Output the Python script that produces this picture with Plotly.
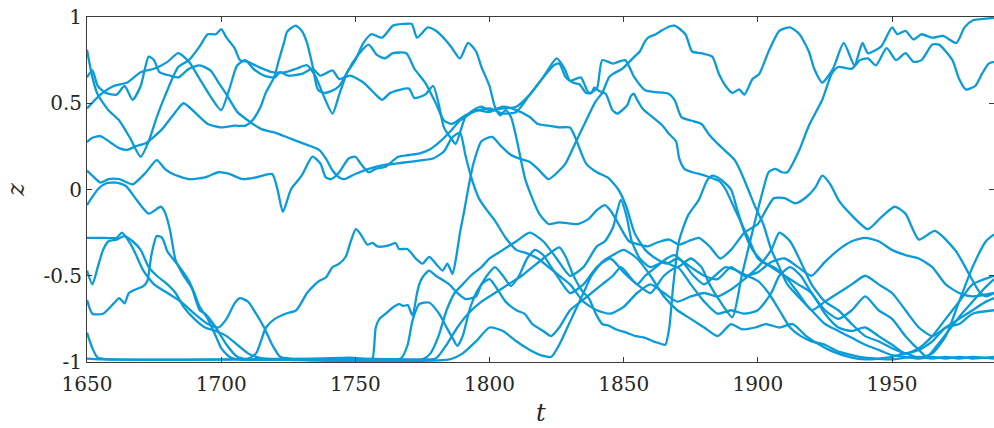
import plotly.graph_objects as go

# ---- data: (year, z) samples, one list per trajectory ----
line_a = [(1650,0.81),(1652,0.65),(1654,0.55),(1658,0.46),(1662,0.40),(1666,0.30),(1670,0.19),(1673,0.28),(1676,0.42),(1679,0.54),
          (1684,0.71),(1688,0.75),(1692,0.83),(1695,0.90),(1698,0.90),(1700,0.93),(1702,0.88),(1705,0.82),(1707,0.75),(1710,0.74),
          (1714,0.71),(1719,0.68),(1724,0.68),(1728,0.70),(1732,0.72),(1735,0.66),(1738,0.55),(1741.5,0.44),(1744,0.55),(1747,0.68),
          (1751,0.78),(1755,0.84),(1758,0.78),(1761,0.76),(1764,0.79),(1769,0.79),(1772,0.70),(1776,0.62),(1780,0.50),(1783,0.40),
          (1786,0.38),(1791,0.43),(1796,0.46),(1800,0.47),(1805,0.44),(1810,0.45),(1815,0.55),(1820,0.65),(1825,0.76),(1828,0.70),
          (1830,0.63),(1834,0.65),(1837,0.56),(1840,0.585),(1842,0.75),(1846,0.73),(1850.5,0.75),(1854,0.65),(1858,0.575),(1862,0.565),
          (1866.6,0.556),(1869,0.518),(1871.5,0.42),(1875,0.40),(1879,0.38),(1881.5,0.325),(1885,0.266),(1889,0.208),(1891.4,0.17),(1894,0.09),
          (1896.4,0.0),(1899,-0.1),(1902,-0.2),(1905,-0.35),(1908,-0.45),(1911,-0.55),(1915,-0.62),(1920,-0.70),(1925,-0.78),(1930,-0.82),
          (1935,-0.86),(1940,-0.90),(1945,-0.93),(1950,-0.96),(1955,-0.97),(1960,-0.98),(1965,-0.97),(1970,-0.98),(1975,-0.97),(1980,-0.98),(1988,-0.97)]

line_b = [(1650,0.65),(1652,0.69),(1654,0.60),(1657,0.56),(1661,0.55),(1664,0.60),(1667,0.52),(1670,0.60),(1673,0.77),(1675,0.75),
          (1677,0.68),(1681,0.66),(1684,0.65),(1688,0.70),(1692,0.72),(1696,0.69),(1699,0.62),(1702,0.55),(1706,0.45),(1710,0.40),
          (1715,0.35),(1720,0.33),(1725,0.30),(1730,0.27),(1736.5,0.23),(1739,0.18),(1741.5,0.11),(1744,0.07),(1746,0.06),(1750,0.09),
          (1755,0.12),(1760,0.14),(1765,0.15),(1770,0.16),(1775,0.17),(1779,0.18),(1783,0.22),(1786,0.30),(1789,0.33),(1791,0.20),
          (1793,0.08),(1796,-0.05),(1799,-0.12),(1802,-0.18),(1806,-0.28),(1810,-0.35),(1814,-0.37),(1818,-0.40),(1822,-0.45),(1826,-0.50),
          (1830,-0.55),(1835,-0.65),(1840,-0.70),(1845,-0.72),(1850,-0.68),(1855,-0.60),(1860,-0.55),(1865,-0.60),(1870,-0.65),(1875,-0.62),
          (1880,-0.60),(1885,-0.62),(1890,-0.58),(1895,-0.52),(1900,-0.45),(1905,-0.35),(1908,-0.25),(1912,-0.30),(1916,-0.42),(1920,-0.55),
          (1925,-0.65),(1930,-0.70),(1935,-0.78),(1940,-0.85),(1945,-0.88),(1950,-0.92),(1955,-0.95),(1960,-0.93),(1965,-0.88),(1970,-0.80),
          (1975,-0.78),(1980,-0.72),(1988,-0.70)]

line_c = [(1650,0.47),(1655,0.55),(1660,0.60),(1665,0.62),(1670,0.68),(1675,0.70),(1680,0.74),(1684,0.79),(1688,0.74),(1692,0.64),
          (1696,0.54),(1700,0.46),(1703,0.58),(1706,0.72),(1709,0.75),(1712,0.70),(1716,0.66),(1720,0.65),(1722,0.68),(1725,0.66),
          (1730,0.67),(1734,0.70),(1737,0.66),(1741.5,0.69),(1744,0.64),(1748,0.66),(1753,0.62),(1757.6,0.55),(1760,0.52),(1763,0.56),
          (1770,0.585),(1772,0.53),(1776,0.55),(1779,0.60),(1781,0.50),(1783,0.36),(1785.5,0.30),(1787.4,0.265),(1789,0.33),(1791,0.42),
          (1794,0.46),(1797,0.48),(1800,0.46),(1805,0.47),(1810,0.48),(1815,0.55),(1820,0.65),(1824,0.72),(1826,0.73),(1828.4,0.65),
          (1831,0.62),(1833.5,0.61),(1836,0.56),(1838,0.56),(1839,0.59),(1841,0.57),(1843.3,0.555),(1845.8,0.46),(1847.6,0.44),(1849.5,0.46),
          (1851.4,0.49),(1852.6,0.54),(1853.8,0.555),(1855,0.52),(1857,0.47),(1860.7,0.42),(1864.5,0.37),(1867,0.32),(1869.5,0.28),(1870.7,0.18),
          (1872.6,0.12),(1875.7,0.10),(1879.4,0.085),(1883.1,0.065),(1885.6,0.05),(1888,0.0),(1891,-0.10),(1894,-0.20),(1897,-0.30),(1900,-0.40),
          (1905,-0.45),(1910,-0.50),(1915,-0.55),(1920,-0.60),(1925,-0.72),(1930,-0.80),(1935,-0.82),(1940,-0.80),(1945,-0.85),(1950,-0.90),
          (1955,-0.95),(1960,-0.92),(1965,-0.85),(1970,-0.75),(1975,-0.65),(1980,-0.55),(1988,-0.50)]

line_d = [(1650,0.275),(1652,0.30),(1655,0.31),(1659,0.27),(1662,0.24),(1665,0.23),(1668,0.25),(1672,0.27),(1678,0.35),(1683,0.45),
          (1686,0.50),(1690,0.45),(1695,0.38),(1700,0.36),(1705,0.37),(1709,0.37),(1711.6,0.40),(1714.7,0.48),(1716.6,0.56),(1719.7,0.65),
          (1721.5,0.75),(1723.4,0.85),(1724.6,0.915),(1727.7,0.95),(1730,0.92),(1732,0.85),(1734,0.72),(1736,0.58),(1738,0.56),(1741,0.57),
          (1744,0.60),(1747,0.68),(1750,0.75),(1753,0.85),(1756,0.90),(1760,0.88),(1764,0.95),(1768,0.96),(1771,0.96),(1773,0.88),
          (1777,0.94),(1780,0.92),(1784,0.86),(1786,0.82),(1789,0.76),(1792,0.85),(1795,0.80),(1797,0.71),(1800,0.60),(1802,0.48),
          (1804,0.43),(1806,0.46),(1808,0.42),(1810,0.30),(1812,0.15),(1813.5,0.05),(1818.5,-0.14),(1822,-0.20),(1826,-0.19),(1833,-0.20),
          (1837,-0.17),(1840,-0.12),(1843,-0.09),(1845,-0.12),(1847,-0.17),(1849.5,-0.24),(1852,-0.30),(1856,-0.32),(1859,-0.33),(1862,-0.31),
          (1864,-0.30),(1867,-0.29),(1870.6,-0.32),(1874,-0.30),(1878,-0.28),(1882,-0.33),(1886,-0.40),(1890,-0.35),(1895,-0.25),(1900,-0.20),
          (1903,-0.12),(1906,-0.05),(1910,-0.05),(1914,-0.08),(1918,-0.045),(1921.5,0.014),(1924,0.08),(1927,0.03),(1930,-0.06),(1935,-0.15),
          (1941,-0.23),(1946,-0.16),(1951,-0.10),(1955,-0.14),(1960,-0.29),(1966,-0.24),(1973.7,-0.355),(1978.7,-0.49),(1982.4,-0.59),(1985,-0.62),
          (1988,-0.60)]

line_e = [(1650,0.11),(1652,0.08),(1655,0.04),(1658,0.06),(1662,0.06),(1667,0.03),(1672,0.10),(1676,0.17),(1679,0.12),(1682,0.09),
          (1688,0.06),(1694,0.07),(1699,0.10),(1703,0.09),(1708,0.06),(1713,0.07),(1719,0.09),(1721,0.0),(1723,-0.13),(1726,0.0),
          (1730,0.08),(1734,0.19),(1737,0.15),(1739,0.07),(1741,0.06),(1744,0.10),(1747.5,0.18),(1750,0.19),(1752,0.15),(1755,0.10),
          (1757.6,0.12),(1761,0.13),(1766,0.19),(1770,0.20),(1774,0.21),(1777.5,0.23),(1781,0.27),(1785,0.33),(1789,0.40),(1791,0.42),
          (1795,0.46),(1800,0.45),(1805,0.48),(1810,0.46),(1815,0.42),(1818,0.38),(1822,0.37),(1826,0.36),(1830,0.36),(1832,0.30),
          (1836,0.15),(1840,0.10),(1844,0.07),(1848,0.0),(1851,-0.10),(1854,-0.25),(1858,-0.35),(1862,-0.40),(1866,-0.43),(1870,-0.40),
          (1875,-0.45),(1880,-0.50),(1885,-0.52),(1890,-0.45),(1895,-0.50),(1900,-0.48),(1905,-0.42),(1910,-0.40),(1915,-0.45),(1920,-0.50),
          (1925,-0.42),(1930,-0.35),(1935,-0.30),(1940,-0.28),(1945,-0.30),(1950,-0.35),(1955,-0.38),(1960,-0.40),(1965,-0.45),(1970,-0.55),
          (1975,-0.60),(1980,-0.62),(1988,-0.60)]

line_f = [(1650,-0.09),(1654,0.0),(1657,0.035),(1661,0.04),(1664.5,0.02),(1668,-0.05),(1673,-0.14),(1677.5,-0.10),(1679,-0.13),(1681,-0.24),
          (1683,-0.41),(1686,-0.50),(1689,-0.57),(1692,-0.70),(1694,-0.72),(1698,-0.80),(1702,-0.90),(1706,-0.97),(1710,-0.985),(1730,-0.985),
          (1750,-0.98),(1762,-0.985),(1767,-0.98),(1769.5,-0.90),(1771.3,-0.76),(1773.8,-0.665),(1777.5,-0.655),(1781.2,-0.72),(1784,-0.80),(1786.2,-0.86),
          (1788,-0.907),(1790,-0.85),(1792.5,-0.70),(1795,-0.60),(1797,-0.55),(1799,-0.50),(1802,-0.45),(1805,-0.50),(1808,-0.56),(1811,-0.50),
          (1814,-0.40),(1817,-0.35),(1820,-0.38),(1823,-0.45),(1826,-0.52),(1830,-0.60),(1835,-0.55),(1840,-0.45),(1845,-0.40),(1850,-0.48),
          (1855,-0.55),(1860,-0.60),(1865,-0.50),(1870,-0.45),(1875,-0.55),(1880,-0.65),(1885,-0.72),(1890,-0.70),(1895,-0.72),(1900,-0.70),
          (1905,-0.60),(1908,-0.50),(1912,-0.45),(1916,-0.50),(1920,-0.60),(1925,-0.70),(1930,-0.75),(1935,-0.70),(1940,-0.62),(1945,-0.70),
          (1950,-0.75),(1955,-0.85),(1960,-0.93),(1963,-0.97),(1967,-0.90),(1972,-0.80),(1976,-0.72),(1980,-0.65),(1984,-0.58),(1988,-0.52)]

line_g = [(1650,-0.64),(1652,-0.72),(1656,-0.72),(1660,-0.66),(1662,-0.63),(1664,-0.66),(1665.6,-0.60),(1668,-0.58),(1671,-0.56),(1672.5,-0.53),
          (1674,-0.38),(1676,-0.27),(1678,-0.28),(1680,-0.36),(1683,-0.42),(1685,-0.46),(1688,-0.53),(1690,-0.60),(1692,-0.68),(1695,-0.75),
          (1698,-0.85),(1700,-0.92),(1703,-0.97),(1706,-0.985),(1730,-0.985),(1748,-0.975),(1755,-0.985),(1756.4,-0.98),(1757.6,-0.80),(1759,-0.75),
          (1761.3,-0.72),(1763.5,-0.69),(1766.3,-0.665),(1768,-0.675),(1769.5,-0.67),(1771.3,-0.73),(1773,-0.60),(1773.8,-0.55),(1775,-0.51),(1777.5,-0.47),
          (1780,-0.50),(1785,-0.55),(1788,-0.60),(1791,-0.635),(1795,-0.62),(1797,-0.55),(1800,-0.52),(1803,-0.58),(1806,-0.65),(1810,-0.70),
          (1813,-0.72),(1816,-0.78),(1820,-0.82),(1823,-0.85),(1826,-0.80),(1830,-0.70),(1834,-0.65),(1838,-0.60),(1842,-0.55),(1846,-0.50),
          (1849,-0.45),(1852,-0.50),(1855,-0.55),(1858,-0.50),(1862,-0.45),(1866,-0.40),(1869,-0.38),(1872,-0.42),(1876,-0.50),(1880,-0.55),
          (1884,-0.50),(1888,-0.45),(1892,-0.47),(1896,-0.50),(1900,-0.53),(1904,-0.60),(1908,-0.70),(1912,-0.80),(1916,-0.85),(1920,-0.88),
          (1925,-0.90),(1930,-0.94),(1935,-0.96),(1940,-0.975),(1950,-0.985),(1955,-0.975),(1960,-0.97),(1965,-0.98),(1970,-0.97),(1975,-0.98),
          (1980,-0.97),(1988,-0.98)]

line_h = [(1650,-0.98),(1655,-0.985),(1700,-0.985),(1740,-0.98),(1775,-0.985),(1780,-0.98),(1784,-0.90),(1788,-0.80),(1792,-0.72),(1797,-0.65),
          (1802,-0.60),(1807,-0.55),(1812,-0.50),(1816,-0.45),(1820,-0.40),(1826,-0.335),(1828.4,-0.39),(1831,-0.49),(1834.6,-0.59),(1837,-0.63),
          (1839.6,-0.72),(1842,-0.78),(1844.5,-0.79),(1847,-0.81),(1851,-0.83),(1854.5,-0.85),(1858,-0.86),(1861,-0.88),(1863,-0.89),(1865.5,-0.90),
          (1867,-0.80),(1868.5,-0.55),(1870.6,-0.30),(1874,-0.15),(1878,-0.06),(1881,0.05),(1883,0.08),(1886,0.06),(1890,0.0),(1892,-0.10),
          (1895,-0.25),(1898,-0.35),(1902,-0.42),(1906,-0.45),(1910,-0.50),(1915,-0.60),(1920,-0.70),(1925,-0.65),(1930,-0.60),(1935,-0.55),
          (1940,-0.50),(1945,-0.55),(1950,-0.60),(1955,-0.70),(1960,-0.80),(1965,-0.85),(1970,-0.80),(1975,-0.75),(1980,-0.70),(1985,-0.65),
          (1988,-0.63)]

line_i = [(1650,-0.83),(1652,-0.92),(1654,-0.975),(1660,-0.985),(1705,-0.985),(1710,-0.98),(1713,-0.95),(1716.7,-0.80),(1720,-0.75),(1724,-0.72),
          (1728,-0.70),(1732,-0.60),(1735,-0.55),(1736.5,-0.53),(1739,-0.51),(1741.5,-0.45),(1744,-0.43),(1746.4,-0.39),(1748.3,-0.30),(1750.2,-0.23),
          (1752,-0.26),(1754.5,-0.32),(1756.4,-0.31),(1758.2,-0.33),(1760.7,-0.33),(1763.2,-0.32),(1765,-0.31),(1766.3,-0.345),(1769.4,-0.345),(1772.5,-0.40),
          (1775,-0.43),(1777.5,-0.39),(1780,-0.43),(1782.5,-0.47),(1784.3,-0.43),(1786.2,-0.49),(1787.5,-0.40),(1789,-0.25),(1790.5,-0.13),(1792,0.0),
          (1794,0.15),(1797,0.28),(1801,0.305),(1804,0.256),(1808,0.20),(1811,0.18),(1815,0.16),(1818,0.12),(1822,0.06),(1826,0.11),
          (1828.3,0.15),(1832,0.27),(1836,0.40),(1839.5,0.51),(1842,0.56),(1844.5,0.65),(1846,0.67),(1849.5,0.70),(1851.5,0.73),(1854,0.77),
          (1856,0.80),(1858,0.86),(1859.5,0.885),(1862,0.90),(1864,0.92),(1867,0.945),(1869,0.95),(1873,0.90),(1875.5,0.80),(1879,0.79),
          (1883,0.77),(1885.5,0.67),(1888,0.60),(1890.5,0.56),(1893,0.58),(1895,0.55),(1898,0.64),(1900.5,0.67),(1904,0.80),(1908,0.92),
          (1912,0.94),(1915.5,0.90),(1919,0.80),(1921,0.70),(1924,0.62),(1928,0.70),(1932,0.85),(1936,0.72),(1939,0.85),(1941,0.79),
          (1946,0.83),(1950,0.94),(1952,0.90),(1955,0.92),(1958,0.87),(1961,0.90),(1965,0.88),(1969,0.89),(1974,0.85),(1977,0.94),
          (1980,0.98),(1985,0.99),(1988,0.995)]

line_k = [(1650,-0.28),(1655,-0.28),(1661,-0.28),(1663,-0.25),(1666,-0.31),(1668,-0.37),(1671,-0.47),(1675,-0.55),(1680,-0.60),(1685,-0.65),
          (1690,-0.72),(1695,-0.78),(1699,-0.80),(1702,-0.75),(1705,-0.66),(1707,-0.63),(1710,-0.65),(1713,-0.72),(1716,-0.80),(1719,-0.90),
          (1722,-0.97),(1728,-0.985),(1775,-0.985),(1778,-0.95),(1781,-0.85),(1784,-0.70),(1787,-0.60),(1790,-0.55),(1793,-0.50),(1797,-0.45),
          (1800,-0.40),(1805,-0.35),(1810,-0.30),(1815,-0.25),(1820,-0.30),(1825,-0.40),(1830,-0.50),(1835,-0.45),(1840,-0.33),(1843,-0.30),
          (1846,-0.22),(1848.9,-0.06),(1851,-0.15),(1853,-0.30),(1856,-0.40),(1860,-0.45),(1865,-0.42),(1870,-0.45),(1875,-0.40),(1879,-0.45),
          (1882,-0.55),(1886,-0.65),(1890.5,-0.74),(1894,-0.50),(1899,-0.18),(1902,0.0),(1904,0.10),(1906.5,0.12),(1909,0.10),(1911,0.10),
          (1915.4,0.227),(1919,0.37),(1924,0.52),(1927.5,0.67),(1930,0.71),(1935,0.70),(1938,0.75),(1941,0.76),(1944,0.72),(1948,0.82),
          (1951.5,0.75),(1955,0.79),(1958,0.74),(1961,0.75),(1965,0.84),(1967.5,0.84),(1972.5,0.75),(1975,0.64),(1977.5,0.58),(1981,0.60),
          (1983.5,0.67),(1986,0.73),(1988,0.74)]

line_n = [(1650,-0.47),(1652,-0.55),(1654,-0.45),(1656,-0.35),(1658,-0.30),(1661,-0.29),(1664,-0.27),(1667,-0.30),(1670,-0.35),(1673,-0.45),
          (1676,-0.50),(1680,-0.55),(1683,-0.60),(1686,-0.68),(1690,-0.75),(1694,-0.80),(1698,-0.82),(1702,-0.85),(1706,-0.90),(1710,-0.95),
          (1714,-0.975),(1720,-0.985),(1785,-0.985),(1790,-0.95),(1795,-0.88),(1800,-0.80),(1805,-0.82),(1810,-0.88),(1815,-0.93),(1820,-0.965),
          (1823,-0.97),(1826,-0.90),(1829,-0.80),(1832,-0.70),(1835,-0.60),(1838,-0.50),(1842,-0.42),(1846,-0.38),(1850,-0.35),(1855,-0.40),
          (1860,-0.50),(1865,-0.62),(1870,-0.70),(1875,-0.75),(1880,-0.80),(1885,-0.85),(1890,-0.78),(1894,-0.81),(1899,-0.80),(1903,-0.78),
          (1908,-0.80),(1913,-0.78),(1918,-0.85),(1923,-0.90),(1928,-0.94),(1935,-0.975),(1940,-0.985),(1945,-0.98),(1950,-0.97),(1955,-0.95),
          (1960,-0.975),(1965,-0.95),(1970,-0.85),(1975,-0.65),(1980,-0.45),(1985,-0.30),(1988,-0.26)]

trajectories = [line_a, line_b, line_c, line_d, line_e, line_f, line_g, line_h, line_i, line_k, line_n]

x_ticks = [1650, 1700, 1750, 1800, 1850, 1900, 1950]
y_ticks = [-1, -0.5, 0, 0.5, 1]
y_tick_text = ['-1', '-0.5', '0', '0.5', '1']

LINE_COLOR = '#0A9BD8'
AXIS_COLOR = '#3a3a3a'
FONT = 'DejaVu Serif'

fig = go.Figure()
for traj in trajectories:
    t, z = zip(*traj)
    fig.add_trace(go.Scatter(x=list(t), y=list(z), mode='lines',
                             line=dict(color=LINE_COLOR, width=2.3, shape='spline', smoothing=0.6),
                             showlegend=False, hoverinfo='skip'))

axis_common = dict(showgrid=False, zeroline=False, showline=True, linecolor=AXIS_COLOR,
                   linewidth=1, mirror='ticks', ticks='inside', ticklen=5,
                   tickcolor=AXIS_COLOR, tickwidth=1,
                   tickfont=dict(family=FONT, size=20, color='#262626'))

fig.update_layout(
    width=994, height=428,
    margin=dict(l=87, r=0, t=17, b=66),
    paper_bgcolor='white', plot_bgcolor='white',
    font=dict(family=FONT, color='#262626'),
    xaxis=dict(range=[1650, 1988], tickvals=x_ticks, ticklabelstandoff=4, **axis_common),
    yaxis=dict(range=[-1, 1], tickvals=y_ticks, ticktext=y_tick_text, **axis_common),
    annotations=[
        dict(text='<i>t</i>', x=0.5, y=-0.148, xref='paper', yref='paper',
             showarrow=False, font=dict(family=FONT, size=24, color='#262626'),
             xanchor='center', yanchor='middle', borderpad=0),
        dict(text='<i>z</i>', x=-0.079, y=0.5, xref='paper', yref='paper',
             showarrow=False, textangle=-90, font=dict(family=FONT, size=24, color='#262626'),
             xanchor='center', yanchor='middle', borderpad=0),
    ],
)

fig.write_html('out.html')
